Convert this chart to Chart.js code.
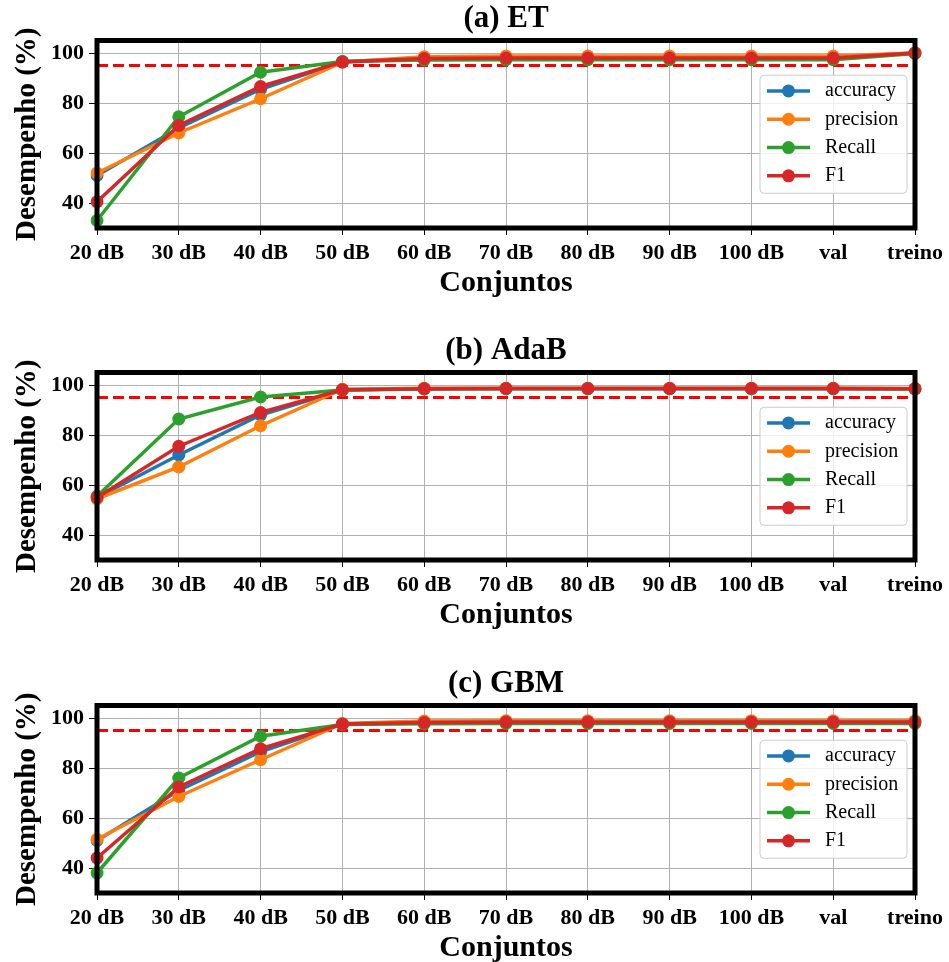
<!DOCTYPE html>
<html>
<head>
<meta charset="utf-8">
<script src="https://cdn.jsdelivr.net/npm/chart.js@4.4.1/dist/chart.umd.min.js"></script>
<style>
html, body { margin: 0; padding: 0; background: #fff; overflow: hidden; width: 949px; height: 962px; }
.panel { position: absolute; left: 0; width: 949px; height: 332px; }
</style>
</head>
<body>
<div class="panel" style="top:0px"><canvas id="chartET" width="949" height="332"></canvas></div>
<div class="panel" style="top:332px"><canvas id="chartAdaB" width="949" height="332"></canvas></div>
<div class="panel" style="top:665px"><canvas id="chartGBM" width="949" height="332"></canvas></div>
<script>
const categories = ['20 dB', '30 dB', '40 dB', '50 dB', '60 dB', '70 dB', '80 dB', '90 dB', '100 dB', 'val', 'treino'];
const yTicks = [40, 60, 80, 100];
const threshold = 95;

// (a) ET
const etAccuracy  = [51.0, 70.0, 85.5, 96.5, 98.0, 98.3, 98.3, 98.3, 98.3, 98.3, 100.0];
const etPrecision = [52.0, 68.0, 81.7, 96.3, 98.5, 98.8, 98.8, 98.8, 98.8, 98.8, 100.0];
const etRecall    = [33.0, 74.5, 92.3, 96.6, 97.2, 97.3, 97.3, 97.3, 97.3, 97.3, 99.8];
const etF1        = [40.5, 71.0, 86.6, 96.4, 97.8, 98.0, 98.0, 98.0, 98.0, 98.0, 100.0];

// (b) AdaB
const adabAccuracy  = [55.0, 72.0, 88.0, 98.0, 98.5, 98.6, 98.6, 98.6, 98.6, 98.6, 98.5];
const adabPrecision = [54.5, 67.2, 83.7, 98.3, 98.7, 98.7, 98.7, 98.7, 98.7, 98.7, 98.6];
const adabRecall    = [55.5, 86.4, 95.2, 98.0, 98.4, 98.5, 98.5, 98.5, 98.5, 98.5, 98.4];
const adabF1        = [55.0, 75.5, 89.0, 98.1, 98.5, 98.6, 98.6, 98.6, 98.6, 98.6, 98.5];

// (c) GBM
const gbmAccuracy  = [51.0, 71.0, 86.5, 97.6, 98.4, 98.6, 98.6, 98.6, 98.6, 98.6, 98.6];
const gbmPrecision = [51.5, 68.6, 83.3, 97.8, 98.8, 98.9, 98.9, 98.9, 98.9, 98.9, 98.9];
const gbmRecall    = [38.0, 76.0, 92.7, 97.4, 97.7, 97.8, 97.8, 97.8, 97.8, 97.8, 97.8];
const gbmF1        = [44.0, 72.4, 87.7, 97.6, 98.2, 98.4, 98.4, 98.4, 98.4, 98.4, 98.4];

const serif = '"Liberation Serif", "Times New Roman", serif';
Chart.defaults.font.family = serif;
Chart.defaults.color = '#000';

// título centrado sobre a área do gráfico (como no matplotlib)
const axTitle = {
    id: 'axTitle',
    afterDraw(chart, args, opts) {
        const { ctx, chartArea: a } = chart;
        ctx.save();
        ctx.fillStyle = '#000';
        ctx.font = 'bold 31px ' + serif;
        ctx.textAlign = 'center';
        ctx.textBaseline = 'middle';
        ctx.fillText(opts.text, (a.left + a.right) / 2, 19);
        ctx.restore();
    }
};

// moldura preta grossa em volta da área do gráfico
const framePlugin = {
    id: 'frame',
    afterDatasetsDraw(chart) {
        const { ctx, chartArea: a } = chart;
        ctx.save();
        ctx.strokeStyle = '#000';
        ctx.lineWidth = 5;
        ctx.strokeRect(a.left, a.top, a.right - a.left, a.bottom - a.top);
        ctx.restore();
    }
};

// legenda estilo matplotlib (linha + marcador), centro-direita
const boxLegend = {
    id: 'boxLegend',
    afterDraw(chart) {
        const { ctx, chartArea: a } = chart;
        const items = chart.data.datasets.filter(d => d.label);
        const w = 147, h = 118, rowH = 28.3;
        const x0 = a.right - 8 - w;
        const y0 = (a.top + a.bottom) / 2 - h / 2;
        ctx.save();
        ctx.beginPath();
        ctx.roundRect(x0, y0, w, h, 4);
        ctx.fillStyle = 'rgba(255,255,255,0.8)';
        ctx.fill();
        ctx.strokeStyle = '#cccccc';
        ctx.lineWidth = 1;
        ctx.stroke();
        items.forEach((d, i) => {
            const y = y0 + 15.7 + i * rowH;
            ctx.strokeStyle = d.borderColor;
            ctx.lineWidth = 3.5;
            ctx.beginPath();
            ctx.moveTo(x0 + 7, y);
            ctx.lineTo(x0 + 50, y);
            ctx.stroke();
            ctx.fillStyle = d.borderColor;
            ctx.beginPath();
            ctx.arc(x0 + 28.5, y, 6.5, 0, Math.PI * 2);
            ctx.fill();
            ctx.fillStyle = '#000';
            ctx.font = '20px ' + serif;
            ctx.textBaseline = 'middle';
            ctx.textAlign = 'left';
            ctx.fillText(d.label, x0 + 65, y);
        });
        ctx.restore();
    }
};

function serie(label, data, color, order) {
    return {
        label: label,
        data: data,
        borderColor: color,
        backgroundColor: color,
        pointBackgroundColor: color,
        pointBorderColor: color,
        borderWidth: 3.5,
        pointRadius: 6.5,
        pointBorderWidth: 0,
        tension: 0,
        order: order
    };
}

function createPanel(id, title, acc, prec, rec, f1) {
    const ctx = document.getElementById(id).getContext('2d');
    new Chart(ctx, {
        type: 'line',
        data: {
            labels: categories,
            datasets: [
                serie('accuracy', acc, '#1f77b4', 4),
                serie('precision', prec, '#ff7f0e', 3),
                serie('Recall', rec, '#2ca02c', 2),
                serie('F1', f1, '#d62728', 1),
                {
                    label: '',
                    data: categories.map(() => threshold),
                    borderColor: '#ff0000',
                    borderWidth: 3,
                    borderDash: [11, 5],
                    pointRadius: 0,
                    order: 10
                }
            ]
        },
        options: {
            responsive: false,
            animation: false,
            layout: { padding: { right: 34, left: 0, top: 40.5, bottom: 0 } },
            plugins: {
                legend: { display: false },
                tooltip: { enabled: false },
                title: { display: false },
                axTitle: { text: title }
            },
            scales: {
                x: {
                    offset: false,
                    grid: { color: '#b0b0b0', lineWidth: 1, tickLength: 7, tickColor: '#000' },
                    border: { display: false },
                    ticks: {
                        color: '#000',
                        autoSkip: false,
                        maxRotation: 0,
                        padding: 5,
                        font: { size: 22, weight: 'bold' }
                    },
                    title: {
                        display: true,
                        text: 'Conjuntos',
                        color: '#000',
                        font: { size: 30, weight: 'bold' },
                        padding: { top: 0, bottom: 31 }
                    },
                    afterFit: s => { s.height = 104; }
                },
                y: {
                    min: 30,
                    max: 105,
                    afterBuildTicks: s => { s.ticks = yTicks.map(v => ({ value: v })); },
                    grid: { color: '#b0b0b0', lineWidth: 1, tickLength: 8, tickColor: '#000' },
                    border: { display: false },
                    ticks: {
                        color: '#000',
                        padding: 5,
                        font: { size: 22, weight: 'bold' }
                    },
                    title: {
                        display: true,
                        text: 'Desempenho (%)',
                        color: '#000',
                        font: { size: 29, weight: 'bold' },
                        padding: { top: 10, bottom: 0 }
                    },
                    afterFit: s => { s.width = 97; }
                }
            }
        },
        plugins: [framePlugin, boxLegend, axTitle]
    });
}

createPanel('chartET', '(a) ET', etAccuracy, etPrecision, etRecall, etF1);
createPanel('chartAdaB', '(b) AdaB', adabAccuracy, adabPrecision, adabRecall, adabF1);
createPanel('chartGBM', '(c) GBM', gbmAccuracy, gbmPrecision, gbmRecall, gbmF1);
</script>
</body>
</html>
